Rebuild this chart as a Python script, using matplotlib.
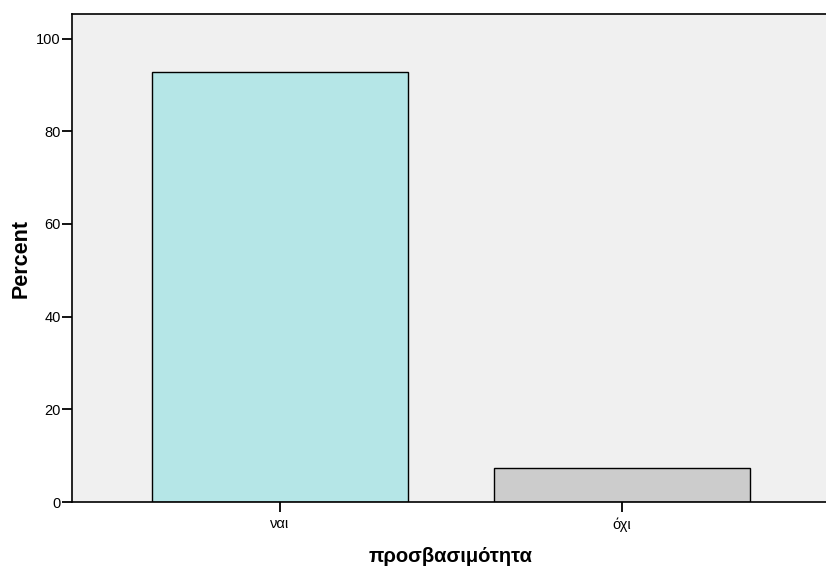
import matplotlib
matplotlib.use("Agg")
import matplotlib.pyplot as plt

# data
categories = ["ναι", "όχι"]
percents = [92.7, 7.3]
bar_colors = ["#b5e6e7", "#cccccc"]

plt.rcParams['font.family'] = ['Liberation Sans', 'DejaVu Sans']

fig = plt.figure(figsize=(8.26, 5.70), dpi=100)
# plot area runs past the right edge, as in the original export
ax = fig.add_axes([72 / 826, 68 / 570, 758 / 826, 488 / 570])
ax.set_facecolor("#f0f0f0")

x = list(range(len(categories)))
ax.bar(x, percents, width=0.75, color=bar_colors, edgecolor="black", linewidth=1.0)

ax.set_xlim(-0.608, 1.608)
ax.set_ylim(0, 105.3)
ax.set_yticks([0, 20, 40, 60, 80, 100])
ax.set_xticks(x)
ax.set_xticklabels(categories)

ax.tick_params(axis='y', direction='out', length=7, width=1.3, labelsize=10.5, pad=1)
ax.tick_params(axis='x', direction='out', length=7, width=1.3, labelsize=10.5, pad=4)
for sp in ax.spines.values():
    sp.set_linewidth(1.2)

ax.set_ylabel("Percent", fontsize=15.5, fontweight='bold', labelpad=3)
ax.set_xlabel("προσβασιμότητα", fontsize=14.5, fontweight='bold', labelpad=11)

fig.savefig("out.png", dpi=100)
